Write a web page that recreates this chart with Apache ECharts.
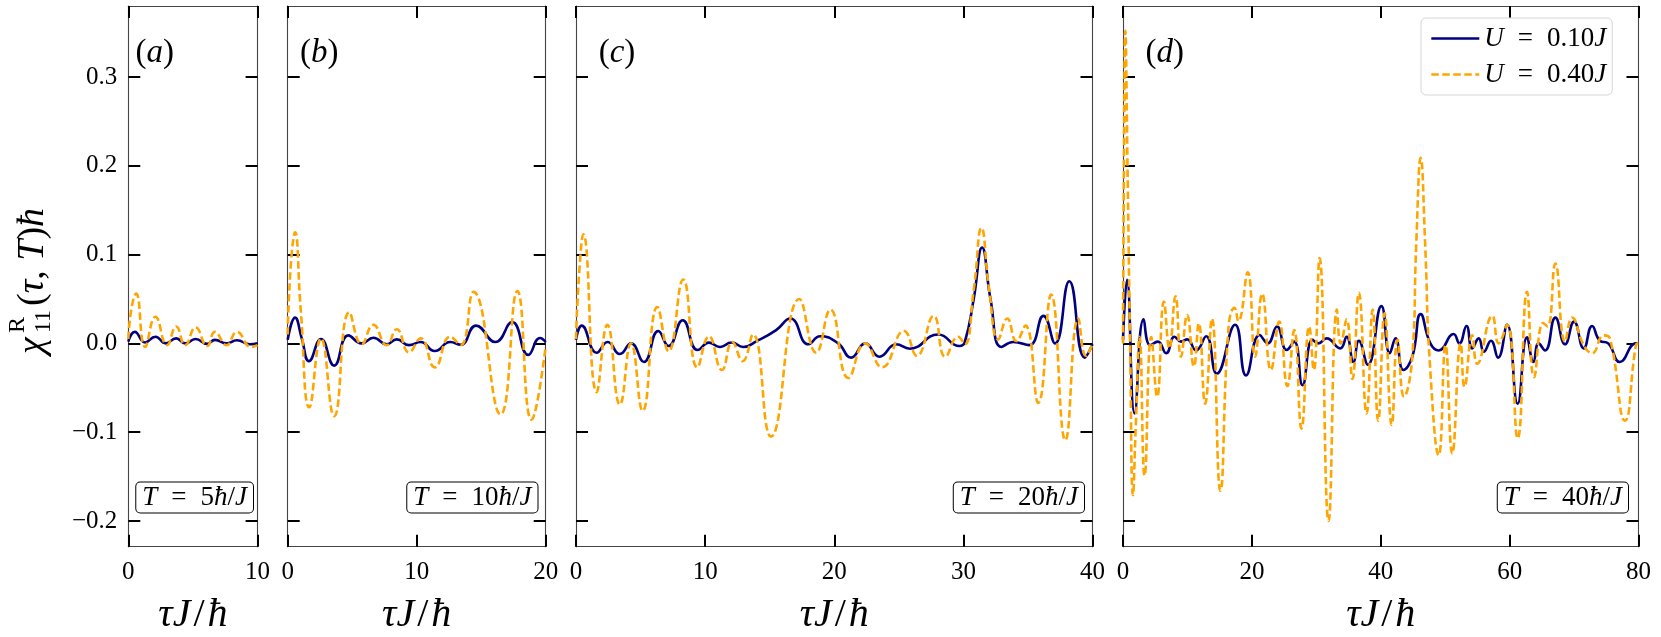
<!DOCTYPE html>
<html>
<head>
<meta charset="utf-8">
<script src="https://cdn.jsdelivr.net/npm/echarts@6/dist/echarts.min.js"></script>
<style>
html, body { margin: 0; padding: 0; background: #fff; }
#main { width: 1661px; height: 637px; }
</style>
</head>
<body>
<div id="main"></div>
<script>
// tick labels
const yTicks = [-0.2, -0.1, 0.0, 0.1, 0.2, 0.3];
const xTicksT5 = [0, 10];
const xTicksT10 = [0, 10, 20];
const xTicksT20 = [0, 10, 20, 30, 40];
const xTicksT40 = [0, 20, 40, 60, 80];

const panelLetters = ['a', 'b', 'c', 'd'];
const periods = ['5', '10', '20', '40'];
const couplings = ['0.10', '0.40'];

// [tau J/hbar, chi hbar]
// U = 0.10J
const weakT5 = [[0,0.002],[0.5,0.013],[1.3,0.001],[2.1,0.0075],[2.9,0.0],[3.7,0.0056],[4.4,0.0],[5.2,0.005],[6.1,-0.0005],[6.7,0.004],[7.6,0.0],[8.4,0.0035],[9.4,-0.001],[10,0.0]];
const weakT10 = [[0,0.004],[0.57,0.029],[1.1,0.005],[1.65,-0.020],[2.58,0.005],[3.6,-0.025],[4.7,0.009],[5.74,0.0],[6.64,0.0064],[7.67,-0.001],[8.45,0.0045],[9.4,-0.002],[10.3,0.0015],[11.4,-0.0086],[12.6,0.0015],[13.4,-0.0015],[14.6,0.020],[16.1,0.0015],[17.4,0.024],[18.65,-0.013],[19.56,0.006],[20,0.0015]];
const weakT20 = [[0,0.004],[0.44,0.020],[1.6,-0.0105],[2.45,0.0015],[3.4,-0.012],[4.26,0.0],[5.26,-0.021],[6.37,0.014],[7.17,-0.003],[8.26,0.026],[9.42,-0.0075],[10.3,0.0008],[11.15,-0.004],[12.05,0.001],[12.95,-0.004],[14.0,0.0026],[15.5,0.015],[16.6,0.028],[18.0,-0.001],[18.9,0.008],[20.3,0.0],[21.3,-0.016],[22.4,0.0],[23.5,-0.015],[24.8,-0.001],[25.85,-0.006],[28.05,0.010],[29.7,-0.003],[30.1,0.001],[30.8,0.05],[31.45,0.108],[32.1,0.05],[32.95,-0.004],[33.85,0.0015],[35.1,-0.002],[36.2,0.031],[37.1,0.0],[38.2,0.070],[39.4,-0.016],[40,-0.001]];
const weakT40 = [[0,0.004],[0.62,0.0715],[1.8,-0.079],[3.2,0.027],[4.23,-0.002],[5.4,0.002],[6.7,-0.011],[8.0,0.0075],[9.0,0.002],[9.96,0.0045],[11.35,-0.008],[12.9,0.008],[14.55,-0.034],[17.4,0.021],[19.1,-0.036],[21.2,0.0094],[22.45,0.0],[23.9,0.019],[25.4,-0.0075],[26.57,0.002],[27.86,-0.047],[29.4,0.004],[30.3,0.0],[31.6,0.0056],[33.7,-0.0056],[34.7,0.0075],[35.75,-0.021],[36.6,0.003],[38.0,-0.024],[40.1,0.042],[41.4,-0.011],[42.3,0.0056],[43.5,-0.030],[44.9,-0.015],[46.2,0.033],[47.7,0.0],[49.0,-0.008],[51.3,0.0105],[52.2,0.0],[53.3,0.0196],[54.2,-0.0056],[55.2,0.0056],[56.0,-0.0094],[57.1,0.003],[58.2,-0.016],[59.6,0.021],[61.25,-0.068],[62.7,0.0068],[63.7,-0.021],[64.5,0.0],[65.5,-0.008],[67.1,0.029],[68.6,-0.001],[70.0,0.0245],[71.5,-0.0056],[72.8,0.0196],[74.0,0.003],[75.3,0.0],[77.1,-0.021],[79.6,0.0],[80,0.0]];

// U = 0.40J
const strongT5 = [[0,0.005],[0.25,0.04],[0.6,0.056],[1.3,-0.004],[2.1,0.030],[3.0,-0.002],[3.7,0.019],[4.4,-0.002],[5.2,0.018],[6.1,-0.003],[6.7,0.013],[7.6,-0.002],[8.4,0.013],[9.5,-0.004],[10,-0.002]];
const strongT10 = [[0,0.01],[0.25,0.09],[0.57,0.125],[1.0,0.04],[1.68,-0.072],[2.58,0.0056],[3.6,-0.082],[4.78,0.035],[5.74,-0.001],[6.64,0.021],[7.67,-0.002],[8.45,0.016],[9.4,-0.01],[10.3,0.0056],[11.4,-0.027],[12.6,0.0075],[13.4,-0.002],[14.4,0.058],[16.5,-0.080],[17.8,0.059],[18.9,-0.086],[20,-0.003]];
const strongT20 = [[0,0.005],[0.25,0.08],[0.57,0.123],[1.6,-0.055],[2.43,0.021],[3.4,-0.069],[4.26,0.0],[5.16,-0.076],[6.3,0.041],[7.17,-0.009],[8.3,0.072],[9.4,-0.027],[10.3,0.008],[11.3,-0.030],[12.1,0.0015],[12.9,-0.020],[13.7,0.010],[15.1,-0.105],[17.3,0.050],[18.6,-0.0105],[19.7,0.038],[21.1,-0.039],[22.4,0.0],[23.7,-0.027],[25.4,0.014],[26.4,-0.014],[27.7,0.031],[28.6,-0.015],[29.6,0.0075],[30.1,-0.001],[30.8,0.06],[31.4,0.130],[32.0,0.06],[32.7,0.0045],[33.4,0.028],[34.1,0.0026],[34.8,0.020],[35.8,-0.067],[36.8,0.055],[37.9,-0.109],[38.9,0.028],[39.5,-0.014],[40,-0.001]];
const strongT40 = [[0,0.0],[0.15,0.2],[0.36,0.352],[0.7,0.2],[1.1,0.0],[1.55,-0.171],[2.0,-0.09],[2.58,0.0075],[3.35,-0.149],[4.39,0.007],[5.3,-0.060],[6.35,0.047],[7.2,-0.0056],[8.15,0.053],[9.0,-0.015],[9.96,0.032],[11.0,-0.026],[11.76,0.0226],[12.75,-0.068],[13.8,0.028],[15.1,-0.166],[16.4,0.02],[17.3,0.040],[17.9,0.025],[19.35,0.080],[20.5,-0.015],[21.6,0.056],[22.96,-0.030],[24.25,0.0245],[25.5,-0.048],[26.57,0.015],[27.7,-0.096],[28.9,0.019],[29.6,-0.030],[30.5,0.096],[31.9,-0.2],[33.2,0.038],[33.8,0.0],[34.7,0.027],[35.6,-0.040],[36.6,0.057],[37.8,-0.079],[38.75,0.038],[39.6,-0.087],[40.6,0.034],[41.7,-0.092],[42.6,0.004],[43.6,-0.060],[44.9,-0.015],[45.5,0.11],[46.2,0.209],[46.9,0.11],[47.6,-0.02],[49.0,-0.126],[50.05,-0.002],[51.1,-0.124],[52.4,0.0],[53.0,-0.049],[54.2,0.009],[54.96,-0.023],[57.3,0.031],[58.3,0.0],[59.6,0.021],[61.25,-0.107],[62.7,0.058],[63.8,-0.038],[65.2,0.023],[65.9,0.019],[67.1,0.090],[68.6,0.002],[69.7,0.029],[71.5,-0.002],[72.8,-0.011],[74.6,0.009],[75.6,0.005],[77.9,-0.087],[79.6,-0.002],[80,0.0]];

const FONT = '"Liberation Serif", "DejaVu Serif", serif';
const NAVY = '#000080';
const ORANGE = '#ffa500';
const Y_MIN = -0.229;
const Y_MAX = 0.38;
const TOP = 6;
const HEIGHT = 540.7;

// layout of the four panels, in pixels
const panels = [
    { left: 128.3, width: 129.3, xMax: 10, ticks: xTicksT5, weak: weakT5, strong: strongT5, boxRight: 253 },
    { left: 287.7, width: 258, xMax: 20, ticks: xTicksT10, weak: weakT10, strong: strongT10, boxRight: 537.5 },
    { left: 576, width: 516.5, xMax: 40, ticks: xTicksT20, weak: weakT20, strong: strongT20, boxRight: 1084 },
    { left: 1123, width: 515.5, xMax: 80, ticks: xTicksT40, weak: weakT40, strong: strongT40, boxRight: 1628 }
];

// italic symbols, a spaced "=" and a slightly spaced "/"
function mathRich(size) {
    return {
        i: { fontStyle: 'italic', fontFamily: FONT, fontSize: size, color: '#000' },
        e: { fontFamily: FONT, fontSize: size, color: '#000', padding: [0, Math.round(size * 0.5)] },
        s: { fontFamily: FONT, fontSize: size, color: '#000', padding: [0, 3] }
    };
}

const frameLine = { show: true, onZero: false, lineStyle: { color: '#444', width: 1.1 } };
const tickStyle = { color: '#000', width: 2 };

function xAxisFor(p, i, top) {
    return {
        type: 'value', gridIndex: i, position: top ? 'top' : 'bottom',
        min: 0, max: p.xMax,
        axisLine: frameLine,
        axisTick: { show: true, inside: true, length: 12, lineStyle: tickStyle, customValues: p.ticks },
        axisLabel: {
            show: !top, customValues: p.ticks, margin: 13,
            fontFamily: FONT, fontSize: 25, color: '#000'
        },
        splitLine: { show: false }
    };
}

function yAxisFor(i, right) {
    return {
        type: 'value', gridIndex: i, position: right ? 'right' : 'left',
        min: Y_MIN, max: Y_MAX,
        axisLine: frameLine,
        axisTick: { show: true, inside: true, length: 12, lineStyle: tickStyle, customValues: yTicks },
        axisLabel: {
            show: !right && i === 0, customValues: yTicks, margin: 11,
            fontFamily: FONT, fontSize: 25, color: '#000',
            formatter: function (v) { return v.toFixed(1).replace('-', '\u2212'); }
        },
        splitLine: { show: false }
    };
}

const xAxes = [], yAxes = [], series = [], graphics = [];
panels.forEach(function (p, i) {
    xAxes.push(xAxisFor(p, i, false), xAxisFor(p, i, true));
    yAxes.push(yAxisFor(i, false), yAxisFor(i, true));
    series.push({
        type: 'line', name: couplings[0], xAxisIndex: 2 * i, yAxisIndex: 2 * i,
        data: p.weak, smooth: true, symbol: 'none',
        lineStyle: { color: NAVY, width: 2.6 }, itemStyle: { color: NAVY }
    }, {
        type: 'line', name: couplings[1], xAxisIndex: 2 * i, yAxisIndex: 2 * i,
        data: p.strong, smooth: true, symbol: 'none',
        lineStyle: { color: ORANGE, width: 2.6, type: [7.5, 3.5] }, itemStyle: { color: ORANGE }
    });
    // panel letter
    graphics.push({
        type: 'text', x: p.left + 0.04 * p.width + 2, y: 53,
        style: {
            text: '({i|' + panelLetters[i] + '})', fontFamily: FONT, fontSize: 33, fill: '#000',
            verticalAlign: 'middle', rich: mathRich(33)
        }
    });
    // period box
    graphics.push({
        type: 'text', x: p.boxRight, y: 512.5,
        style: {
            text: '{i|T}{e|=}' + periods[i] + '{i|ħ}/{i|J}', fontFamily: FONT, fontSize: 27, fill: '#000',
            align: 'right', verticalAlign: 'bottom',
            padding: [2, 6, 1, 6], backgroundColor: '#fff',
            borderColor: '#000', borderWidth: 1, borderRadius: 4,
            rich: mathRich(27)
        }
    });
    // x axis title
    graphics.push({
        type: 'text', x: p.left + p.width / 2, y: 615,
        style: {
            text: '{i|τJ}{s|/}{i|ħ}', fontFamily: FONT, fontSize: 40, fill: '#000',
            align: 'center', verticalAlign: 'middle', rich: mathRich(40)
        }
    });
});

// rotated y label: chi^R_11(tau, T) hbar
graphics.push({
    type: 'group', x: 33, y: 354, rotation: Math.PI / 2,
    children: [
        { type: 'text', x: 0, y: 0, style: { text: 'χ', fontFamily: FONT, fontStyle: 'italic', fontSize: 38, fill: '#000', verticalAlign: 'middle' } },
        { type: 'text', x: 21, y: -15, style: { text: 'R', fontFamily: FONT, fontSize: 24, fill: '#000', verticalAlign: 'middle' } },
        { type: 'text', x: 21, y: 11, style: { text: '11', fontFamily: FONT, fontSize: 24, fill: '#000', verticalAlign: 'middle' } },
        { type: 'text', x: 48, y: 0, style: {
            text: '({i|τ}, {i|T}){i|ħ}', fontFamily: FONT, fontSize: 38, fill: '#000', verticalAlign: 'middle',
            rich: mathRich(38)
        } }
    ]
});

const chart = echarts.init(document.getElementById('main'));
chart.setOption({
    backgroundColor: '#fff',
    animation: false,
    grid: panels.map(function (p) {
        return { left: p.left, top: TOP, width: p.width, height: HEIGHT };
    }),
    xAxis: xAxes,
    yAxis: yAxes,
    legend: {
        data: couplings, orient: 'vertical', left: 1421, top: 18,
        itemWidth: 48, itemHeight: 14, itemGap: 9, itemTextGap: 29,
        padding: [7, 6, 7, 9],
        itemStyle: { color: 'rgba(0,0,0,0)', borderWidth: 0 },
        lineStyle: { width: 2.6 },
        backgroundColor: 'rgba(255,255,255,0.85)', borderColor: '#d6d6d6', borderWidth: 1, borderRadius: 5,
        formatter: function (name) { return '{i|U}{e|=}' + name + '{i|J}'; },
        textStyle: {
            fontFamily: FONT, fontSize: 27, color: '#000',
            rich: mathRich(27)
        }
    },
    series: series,
    graphic: graphics
});
</script>
</body>
</html>
